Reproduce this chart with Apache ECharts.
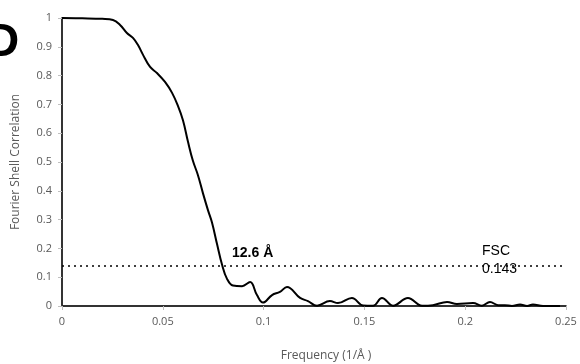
<!DOCTYPE html>
<html>
<head>
<meta charset="utf-8">
<script src="https://cdn.jsdelivr.net/npm/echarts@6/dist/echarts.min.js"></script>
<style>
  html, body { margin: 0; padding: 0; background: #fff; }
  #chart { width: 580px; height: 364px; }
</style>
</head>
<body>
<div id="chart"></div>
<script>
// frequency (1/Å) and FSC
const freq = [0, 0.010, 0.020, 0.0253, 0.0288, 0.0322, 0.0352, 0.0377, 0.0402,
  0.0437, 0.0471, 0.0511, 0.0546, 0.0575, 0.0600, 0.0625, 0.0649, 0.0674, 0.0699,
  0.0724, 0.0744, 0.0769, 0.0794, 0.0818, 0.0848, 0.0893, 0.0933, 0.0967, 0.0997,
  0.1042, 0.1081, 0.1116, 0.1181, 0.1220, 0.1265, 0.1329, 0.1369, 0.1438, 0.1493,
  0.1543, 0.1587, 0.1642, 0.1716, 0.1786, 0.1840, 0.1910, 0.1959, 0.2039, 0.2083,
  0.2123, 0.2163, 0.2197, 0.2232, 0.2272, 0.2307, 0.2336, 0.2386, 0.2436, 0.2470]
const fsc = [1.0, 0.999, 0.997, 0.993, 0.976, 0.948, 0.931, 0.906, 0.872,
  0.830, 0.809, 0.778, 0.740, 0.695, 0.645, 0.570, 0.505, 0.455, 0.392,
  0.333, 0.290, 0.215, 0.143, 0.095, 0.071, 0.069, 0.083, 0.038, 0.012,
  0.038, 0.049, 0.066, 0.028, 0.017, 0.001, 0.017, 0.010, 0.028, 0.002,
  0.001, 0.028, 0.001, 0.028, 0.001, 0.003, 0.014, 0.007, 0.010, 0.001,
  0.014, 0.003, 0.003, 0.0, 0.005, 0.0, 0.005, 0.0, 0.0, 0.0]
const threshold = 0.143

const grey = '#595959'
const font = 'Open Sans'

const chart = echarts.init(document.getElementById('chart'))
chart.setOption({
  animation: false,
  grid: { left: 62, right: 14, top: 18, bottom: 58, outerBoundsMode: 'none' },
  xAxis: [
    {
      type: 'value', min: 0, max: 0.25, interval: 0.05,
      name: 'Frequency (1/Å )', nameLocation: 'middle', nameGap: 44,
      nameTextStyle: { color: grey, fontFamily: font, fontSize: 12, padding: [0, 0, 0, 24] },
      axisLine: { lineStyle: { color: '#bfbfbf', width: 1.5 } },
      axisTick: { show: true, length: 4, lineStyle: { color: '#bfbfbf' } },
      axisLabel: { color: grey, fontFamily: font, fontSize: 11, margin: 10 },
      splitLine: { show: false }
    },
    {
      type: 'value', min: 0, max: 0.25, position: 'top',
      axisLine: { show: true, lineStyle: { color: '#000', width: 1.5 } },
      axisTick: { show: false }, axisLabel: { show: false }, splitLine: { show: false }
    }
  ],
  yAxis: [
    {
      type: 'value', min: 0, max: 1, interval: 0.1,
      name: 'Fourier Shell Correlation', nameLocation: 'middle', nameGap: 40,
      nameTextStyle: { color: grey, fontFamily: font, fontSize: 12 },
      axisLine: { show: true, lineStyle: { color: '#bfbfbf', width: 1.5 } },
      axisTick: { show: true, length: 4, lineStyle: { color: '#bfbfbf' } },
      axisLabel: { color: grey, fontFamily: font, fontSize: 11, margin: 10 },
      splitLine: { show: false }
    },
    {
      type: 'value', min: 0, max: 1, position: 'right',
      axisLine: { show: true, lineStyle: { color: '#000', width: 1.5 } },
      axisTick: { show: false }, axisLabel: { show: false }, splitLine: { show: false }
    }
  ],
  series: [
    {
      type: 'line',
      data: freq.map((f, i) => [f, fsc[i]]),
      smooth: 0.4,
      showSymbol: false,
      lineStyle: { color: '#000', width: 2 },
      markLine: {
        silent: true,
        symbol: 'none',
        label: { show: false },
        lineStyle: { color: '#000', type: [2, 4], width: 1.5 },
        data: [{ yAxis: threshold }]
      }
    }
  ],
  graphic: [
    { type: 'text', left: -14, top: 20, style: { text: 'D', font: 'bold 46px Liberation Sans', fill: '#000' } },
    { type: 'text', left: 232, top: 246, style: { text: '12.6 Å', font: 'bold 14px Liberation Sans', fill: '#000' } },
    { type: 'text', left: 482, top: 244, style: { text: 'FSC', font: '14px Liberation Sans', fill: '#000' } },
    { type: 'text', left: 482, top: 262, style: { text: '0.143', font: '14px Liberation Sans', fill: '#000' } }
  ]
})
</script>
</body>
</html>
